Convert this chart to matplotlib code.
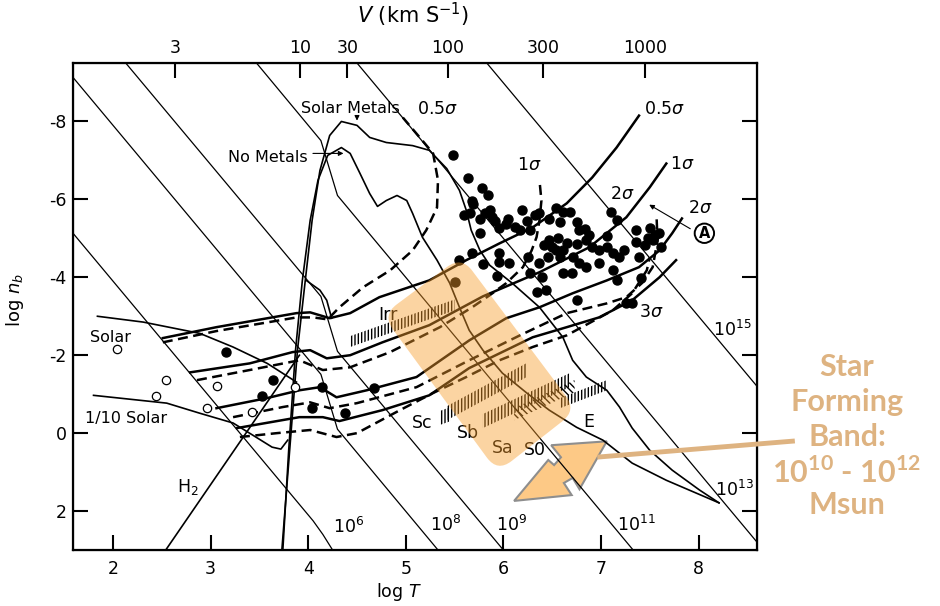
#!/usr/bin/env python3

import matplotlib.pyplot as plt
import numpy as np
from matplotlib.patches import Polygon, PathPatch
from matplotlib.path import Path
from matplotlib.transforms import IdentityTransform
from matplotlib.lines import Line2D

plt.rcParams['font.family'] = 'DejaVu Sans'
plt.rcParams['axes.unicode_minus'] = False
plt.rcParams['hatch.linewidth'] = 1.0

# ---------------- DATA (log T, log n_b) ----------------

# constant-mass lines, with the kink at hydrogen ionisation
mass_labels = ['6', '8', '9', '11', '13', '15']
mass_x = [[1.59, 4.05, 4.15, 4.25],
          [1.59, 4.13, 4.30, 5.33],
          [2.13, 4.13, 4.30, 6.00],
          [3.47, 4.13, 4.30, 7.33],
          [4.50, 8.60],
          [5.83, 8.60]]
mass_y = [[-5.13, 2.25, 2.60, 3.00],
          [-9.13, -1.51, -0.10, 3.00],
          [-9.50, -3.51, -2.10, 3.00],
          [-9.50, -7.51, -6.10, 3.00],
          [-9.50, 2.80],
          [-9.50, -1.20]]
mass_label_x = [4.41, 5.41, 6.08, 7.36, 8.37, 8.35]
mass_label_y = [2.41, 2.36, 2.36, 2.36, 1.46, -2.64]

# cooling = free-fall curves
solar_metals_x = [3.73, 3.81, 3.89, 3.97, 4.04, 4.12, 4.22, 4.34, 4.50, 4.63, 4.80,
                  5.07, 5.24, 5.42, 5.55, 5.62, 5.67, 5.76, 5.86, 6.09, 6.37, 6.61,
                  6.71, 6.85, 7.06, 7.19, 7.32, 7.50, 7.73, 8.01, 8.21]
solar_metals_y = [3.00, 0.44, -2.13, -3.92, -5.46, -6.74, -7.64, -8.00, -7.90, -7.59, -7.46,
                  -7.38, -7.26, -6.79, -6.23, -5.72, -5.21, -4.69, -4.31, -3.85, -3.23, -2.46,
                  -1.87, -1.44, -1.10, -0.67, -0.13, 0.44, 0.95, 1.46, 1.79]
no_metals_x = [3.74, 3.80, 3.87, 3.94, 4.02, 4.10, 4.20, 4.34, 4.43, 4.53, 4.63, 4.71,
               4.80, 4.91, 5.01, 5.07, 5.17, 5.32, 5.45, 5.55, 5.65, 5.79, 5.99, 6.24,
               6.47, 6.75, 7.02, 7.32, 7.67, 8.21]
no_metals_y = [3.00, 0.44, -2.13, -3.92, -5.46, -6.49, -7.13, -7.33, -7.18, -6.67, -6.15, -5.82,
               -5.97, -6.10, -5.97, -5.64, -5.03, -4.44, -3.85, -3.23, -2.64, -2.13, -1.54, -1.03,
               -0.59, -0.15, 0.18, 0.77, 1.21, 1.79]
bend_x = [3.98, 4.12, 4.19, 4.24]
bend_y = [-3.92, -3.67, -3.41, -2.95]

solar_low_x = [1.84, 2.31, 2.89, 3.23, 3.58, 3.88]
solar_low_y = [-3.00, -2.85, -2.56, -2.21, -1.79, -1.31]
tenth_solar_x = [1.80, 2.55, 2.89, 3.23, 3.45, 3.63, 3.72, 3.79]
tenth_solar_y = [-0.97, -0.77, -0.51, -0.26, 0.08, 0.36, 0.41, 0.18]
h2_x = [2.54, 3.91]
h2_y = [3.00, -2.00]

# sigma curves, solid and dashed
s05_x = [2.51, 3.06, 3.88, 4.02, 4.22, 4.43, 4.73, 5.24, 5.62, 5.96, 6.30, 6.65, 6.91, 7.16, 7.39]
s05_y = [-2.44, -2.72, -3.08, -3.10, -2.95, -3.08, -3.49, -3.92, -4.44, -4.87, -5.28, -5.90, -6.56, -7.33, -8.15]
d05_x = [2.51, 3.06, 3.88, 4.05, 4.20, 4.32, 4.56, 4.84, 5.07, 5.21, 5.32, 5.33, 5.28, 5.17, 4.97]
d05_y = [-2.33, -2.62, -2.97, -2.97, -2.92, -3.23, -3.74, -4.18, -4.69, -5.21, -5.79, -6.49, -7.18, -7.51, -8.10]
s1_x = [2.79, 3.40, 3.84, 4.02, 4.19, 4.43, 4.76, 5.24, 5.79, 6.37, 6.88, 7.26, 7.50, 7.67]
s1_y = [-1.56, -1.79, -2.08, -2.13, -1.92, -2.00, -2.33, -2.77, -3.51, -4.13, -4.77, -5.54, -6.31, -6.92]
d1_x = [2.86, 3.40, 3.91, 4.15, 4.43, 4.84, 5.35, 5.68, 5.86, 6.03, 6.20, 6.29, 6.34, 6.37, 6.39, 6.37]
d1_y = [-1.36, -1.62, -1.87, -1.62, -1.69, -2.08, -2.72, -3.23, -3.54, -3.85, -4.26, -4.69, -5.03, -5.46, -5.97, -6.49]
s2_x = [3.06, 3.58, 3.91, 4.12, 4.29, 4.60, 5.11, 5.65, 6.03, 6.37, 6.71, 7.06, 7.39, 7.60, 7.73, 7.83]
s2_y = [-0.64, -0.90, -1.10, -1.18, -0.92, -1.10, -1.44, -2.38, -2.95, -3.23, -3.59, -3.92, -4.26, -4.69, -5.13, -5.51]
d2_x = [3.23, 3.74, 4.02, 4.22, 4.50, 5.11, 5.65, 6.17, 6.65, 7.06, 7.26, 7.42, 7.53, 7.58, 7.57]
d2_y = [-0.41, -0.67, -0.79, -0.64, -0.77, -1.18, -1.87, -2.51, -3.08, -3.33, -3.49, -3.85, -4.26, -4.95, -5.54]
s3_x = [3.27, 3.91, 4.15, 4.32, 4.76, 5.24, 5.65, 6.30, 6.65, 6.98, 7.32, 7.60, 7.77]
s3_y = [-0.13, -0.41, -0.41, -0.31, -0.59, -0.97, -1.67, -2.46, -2.72, -2.97, -3.41, -4.00, -4.44]
d3_x = [3.30, 3.68, 4.02, 4.29, 4.50, 4.94, 5.28, 5.62, 5.96, 6.30, 6.65, 7.12, 7.32, 7.47, 7.50]
d3_y = [0.10, 0.00, -0.08, 0.10, 0.00, -0.59, -1.03, -1.44, -1.87, -2.21, -2.51, -3.15, -3.59, -4.18, -4.51]

# observed objects
group_x = [5.48, 5.64, 5.78, 5.84, 5.69, 5.86, 5.66, 5.76, 5.91, 6.03, 6.12, 6.19, 6.24, 6.27,
           6.37, 6.47, 6.54, 6.61, 6.58, 6.75, 6.84, 6.85, 6.75, 6.54, 6.47, 6.65, 6.58, 6.46,
           6.71, 6.91, 7.06, 7.06, 7.10, 7.16, 7.19, 6.98, 7.12, 7.36, 7.50, 7.60, 7.36, 7.62,
           7.39, 6.37, 6.25, 6.06, 5.96, 6.27, 6.70, 6.75, 6.44, 7.32, 7.12, 7.41, 5.55, 5.50,
           5.68, 5.79, 5.93, 5.76, 5.96, 6.34, 6.40, 6.61, 7.26, 6.78, 7.16, 6.85, 7.53,
           6.50, 6.61, 6.42, 6.17, 6.32, 5.96, 5.60, 5.68, 5.81, 6.88, 6.98, 7.24, 7.45,
           7.55, 6.78, 6.68, 6.56, 6.05, 5.88, 7.48]
group_y = [-7.13, -6.56, -6.28, -6.10, -5.87, -5.74, -5.64, -5.49, -5.44, -5.38, -5.28, -5.72, -5.44, -5.21,
           -5.64, -5.49, -5.79, -5.67, -5.41, -5.41, -5.23, -4.95, -4.85, -4.69, -4.95, -4.87, -4.51, -4.51,
           -4.51, -4.77, -4.77, -5.05, -5.67, -5.46, -4.51, -4.36, -4.62, -5.21, -5.26, -5.13, -4.90, -4.77,
           -4.51, -4.36, -4.51, -4.36, -4.38, -4.10, -4.10, -3.41, -3.67, -3.33, -4.18, -3.97, -4.44, -3.87,
           -4.62, -4.33, -4.03, -5.13, -4.62, -3.62, -4.00, -4.10, -3.33, -4.36, -3.92, -4.26, -4.95,
           -4.77, -4.69, -4.82, -5.21, -5.59, -5.26, -5.59, -5.97, -5.64, -5.08, -4.69, -4.69, -4.82,
           -5.08, -5.21, -5.67, -5.00, -5.50, -5.55, -5.00]
dwarf_x = [3.16, 3.64, 3.53, 4.14, 4.04, 4.38, 4.67]
dwarf_y = [-2.08, -1.36, -0.95, -1.18, -0.64, -0.51, -1.15]
open_x = [2.04, 2.54, 2.44, 2.96, 3.07, 3.42, 3.86]
open_y = [-2.15, -1.36, -0.95, -0.64, -1.21, -0.54, -1.18]

# galaxy hatched segments: start, end, height
gal_names = ['Irr', 'Sc', 'Sb', 'Sa', 'S0', 'E']
gal_x0 = [4.43, 5.35, 5.42, 5.79, 6.11, 6.58]
gal_y0 = [-2.21, -0.21, -0.33, -0.13, -0.33, -0.64]
gal_x1 = [5.50, 5.46, 6.24, 6.68, 6.73, 7.06]
gal_y1 = [-3.15, -0.31, -1.44, -1.18, -1.05, -1.10]
gal_h = [0.28, 0.36, 0.36, 0.36, 0.31, 0.26]
gal_label_x = [4.82, 5.17, 5.64, 5.99, 6.32, 6.88]
gal_label_y = [-3.03, -0.26, 0.00, 0.38, 0.44, -0.28]

# star forming band overlay and arrow
band_x = [5.57, 6.75, 5.94, 4.76]
band_y = [-4.54, -0.59, 1.00, -3.03]
arrow_x = [7.06, 6.78, 6.71, 6.62, 6.70, 6.11, 6.46, 6.52, 6.59, 6.49]
arrow_y = [0.21, 1.44, 1.15, 1.28, 1.59, 1.74, 0.69, 0.82, 0.62, 0.31]

# top axis: circular velocity
v_logT = [2.64, 3.92, 4.40, 5.43, 6.41, 7.45]
v_labels = ['3', '10', '30', '100', '300', '1000']


def rounded_path(pts, r):
    verts, codes = [], []
    n = len(pts)
    for i in range(n):
        p, a, b = pts[i], pts[i - 1], pts[(i + 1) % n]
        ua = (a - p) / np.hypot(*(a - p))
        ub = (b - p) / np.hypot(*(b - p))
        verts += [p + r * ua, p, p + r * ub]
        codes += [Path.MOVETO if i == 0 else Path.LINETO, Path.CURVE3, Path.CURVE3]
    verts.append(verts[0])
    codes.append(Path.CLOSEPOLY)
    return Path(verts, codes)


# ---------------- FIGURE ----------------
fig = plt.figure(figsize=(9.4, 6.06), dpi=100)
ax = fig.add_axes([0.0777, 0.0924, 0.7277, 0.8036])
ax.set_xlim(1.59, 8.6)
ax.set_ylim(3.0, -9.5)

# mass lines
for mx, my, lab, lx, ly in zip(mass_x, mass_y, mass_labels, mass_label_x, mass_label_y):
    ax.plot(mx, my, color='black', lw=0.9, zorder=2)
    ax.text(lx, ly, r'$\mathregular{10^{%s}}$' % lab, fontsize=12.5,
            ha='center', va='center', zorder=3)

# cooling curves
for cx, cy in [(solar_metals_x, solar_metals_y), (no_metals_x, no_metals_y),
               (bend_x, bend_y), (solar_low_x, solar_low_y),
               (tenth_solar_x, tenth_solar_y), (h2_x, h2_y)]:
    ax.plot(cx, cy, color='black', lw=1.2, zorder=2)

# sigma curves
for sx, sy in [(s05_x, s05_y), (s1_x, s1_y), (s2_x, s2_y), (s3_x, s3_y)]:
    ax.plot(sx, sy, color='black', lw=1.8, zorder=2)
for dx, dy in [(d05_x, d05_y), (d1_x, d1_y), (d2_x, d2_y), (d3_x, d3_y)]:
    ax.plot(dx, dy, color='black', lw=1.8, dashes=(4, 2.2), zorder=2)

# data points
ax.plot(group_x, group_y, 'o', color='black', ms=6.5, zorder=3)
ax.plot(dwarf_x, dwarf_y, 'o', color='black', ms=6.5, zorder=3)
ax.plot(open_x, open_y, 'o', mfc='white', mec='black', mew=0.9, ms=6, zorder=3)

# galaxy hatches
for x0, y0, x1, y1, h, name, lx, ly in zip(gal_x0, gal_y0, gal_x1, gal_y1, gal_h,
                                           gal_names, gal_label_x, gal_label_y):
    hatch = '\\\\\\\\\\' if name == 'S0' else '|||||'
    ax.add_patch(Polygon([(x0, y0), (x1, y1), (x1, y1 - h), (x0, y0 - h)], closed=True,
                         facecolor='none', edgecolor='black', linewidth=0,
                         hatch=hatch, zorder=2))
    ax.text(lx, ly, name, fontsize=12.5, ha='center', va='center', zorder=3)

# text labels
ax.text(4.43, -8.33, 'Solar Metals', fontsize=11.5, ha='center', va='center')
ax.text(5.33, -8.33, r'0.5$\sigma$', fontsize=12.5, ha='center', va='center')
ax.text(3.59, -7.08, 'No Metals', fontsize=11.5, ha='center', va='center')
ax.text(7.65, -8.33, r'0.5$\sigma$', fontsize=12.5, ha='center', va='center')
ax.text(6.27, -6.87, r'1$\sigma$', fontsize=12.5, ha='center', va='center')
ax.text(7.83, -6.92, r'1$\sigma$', fontsize=12.5, ha='center', va='center')
ax.text(7.22, -6.15, r'2$\sigma$', fontsize=12.5, ha='center', va='center')
ax.text(8.02, -5.77, r'2$\sigma$', fontsize=12.5, ha='center', va='center')
ax.text(7.52, -3.10, r'3$\sigma$', fontsize=12.5, ha='center', va='center')
ax.text(1.97, -2.46, 'Solar', fontsize=11.5, ha='center', va='center')
ax.text(2.13, -0.38, '1/10 Solar', fontsize=11.5, ha='center', va='center')
ax.text(2.77, 1.38, r'H$_\mathregular{2}$', fontsize=12.5, ha='center', va='center')
ax.text(8.06, -5.13, 'A', fontsize=10.5, fontweight='bold', ha='center', va='center',
        bbox=dict(boxstyle='circle,pad=0.15', fc='white', ec='black', lw=1.4))

arr = dict(arrowstyle='-|>', lw=0.8, color='black', mutation_scale=7)
ax.annotate('', xy=(4.50, -7.95), xytext=(4.50, -8.2), arrowprops=arr)
ax.annotate('', xy=(4.39, -7.18), xytext=(4.02, -7.18), arrowprops=arr)
ax.annotate('', xy=(7.47, -5.90), xytext=(7.94, -5.21), arrowprops=arr)

# arrow under the band
ax.add_patch(Polygon(np.column_stack([arrow_x, arrow_y]), closed=True,
                     facecolor='#FDC986', edgecolor='#8E8E8E', lw=1.5, zorder=1.5))

# axes styling
ax.set_xticks([2, 3, 4, 5, 6, 7, 8])
ax.set_yticks([-8, -6, -4, -2, 0, 2])
ax.tick_params(direction='in', length=11, width=1.5, labelsize=12.5,
               right=True, top=False)
ax.tick_params(axis='x', pad=7)
ax.tick_params(axis='y', pad=4.5)
for sp in ax.spines.values():
    sp.set_linewidth(1.6)
ax.text(0.477, -0.086, r'log $T$', transform=ax.transAxes, fontsize=12.5,
        ha='center', va='center')
ax.text(-0.085, 0.513, r'log $n_b$', transform=ax.transAxes, fontsize=13,
        rotation=90, ha='center', va='center')

ax2 = ax.twiny()
ax2.set_xlim(ax.get_xlim())
ax2.set_xticks(v_logT)
ax2.set_xticklabels(v_labels)
ax2.tick_params(direction='in', length=11, width=1.5, labelsize=12.5, pad=4)
ax.text(0.497, 1.099, r'$V$ (km S$^{\mathregular{-1}}$)', transform=ax.transAxes,
        fontsize=15, ha='center', va='center')

# orange star forming band (rounded in pixel space)
corners = ax.transData.transform(np.column_stack([band_x, band_y]))
ax.add_patch(PathPatch(rounded_path(corners, 18), transform=IdentityTransform(),
                       facecolor='#F89E2D', alpha=0.44, edgecolor='none', zorder=6))

# annotation
tan = '#DEB381'
fig.add_artist(Line2D([0.638, 0.843], [0.246, 0.272], color=tan, lw=3.5,
                      transform=fig.transFigure))
ann_lines = ['Star', 'Forming', 'Band:',
             r'10$^{\mathregular{10}}$ - 10$^{\mathregular{12}}$', 'Msun']
ann_y = [367, 402, 437, 472, 505]
for t, yy in zip(ann_lines, ann_y):
    fig.text(0.901, 1 - yy / 606, t, color=tan, fontsize=22, fontweight='bold',
             family='Lato', ha='center', va='center')

plt.savefig('out.png', dpi=100)
